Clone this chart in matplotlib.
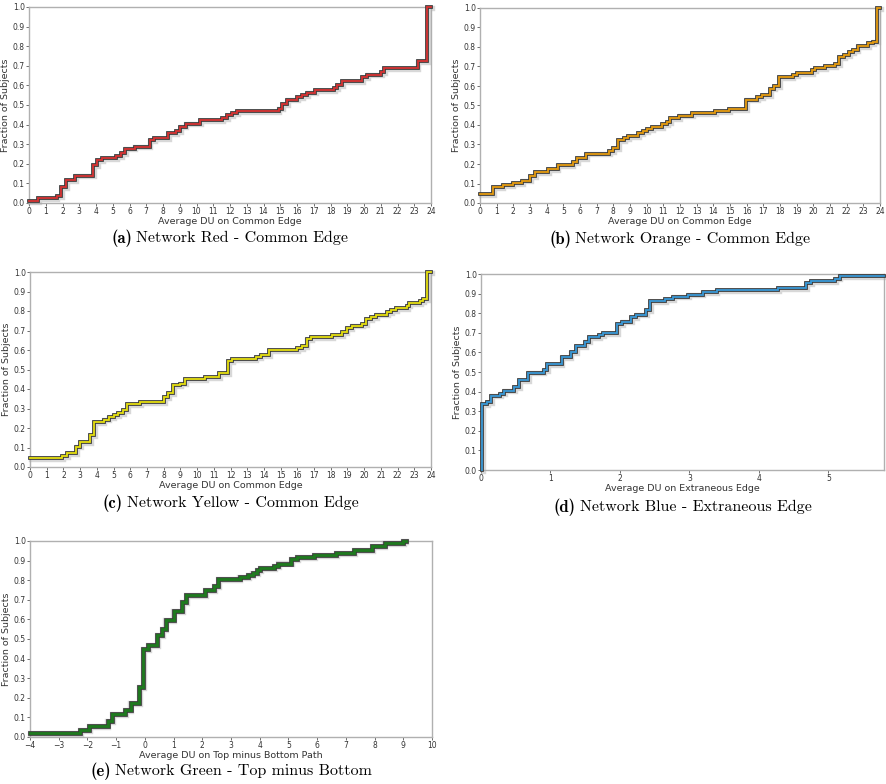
import matplotlib
matplotlib.use('Agg')
import matplotlib.pyplot as plt
import matplotlib.patheffects as pe

plt.rcParams['axes.unicode_minus'] = True

# (a) Network Red - Common Edge : jump positions and new levels
red_x = [0, 0.55, 1.65, 1.9, 2.2, 2.75, 3.85, 4.05, 4.35, 5.2, 5.5, 5.75, 6.3, 7.2, 7.45,
         8.3, 8.8, 9.0, 9.35, 10.2, 11.55, 11.85, 12.1, 12.4, 14.9, 15.1, 15.4, 16.0, 16.3,
         16.6, 17.1, 18.2, 18.4, 18.7, 19.9, 20.2, 21.0, 21.2, 23.2, 23.75, 24]
red_y = [0.01, 0.023, 0.035, 0.08, 0.115, 0.14, 0.195, 0.22, 0.23, 0.24, 0.255, 0.278, 0.288,
         0.322, 0.333, 0.357, 0.368, 0.39, 0.405, 0.425, 0.435, 0.45, 0.46, 0.47, 0.482, 0.505,
         0.528, 0.54, 0.552, 0.563, 0.575, 0.587, 0.6, 0.62, 0.643, 0.655, 0.667, 0.69, 0.723,
         1.0, 1.0]

# (b) Network Orange - Common Edge
orange_x = [0, 0.8, 1.35, 1.95, 2.5, 3.0, 3.3, 4.1, 4.65, 5.55, 5.8, 6.35, 7.75, 8.0, 8.3,
            8.65, 8.9, 9.5, 9.75, 10.0, 10.3, 10.9, 11.2, 11.4, 11.95, 12.7, 14.1, 14.95,
            15.95, 16.6, 16.9, 17.4, 17.65, 17.95, 18.75, 19.0, 19.9, 20.1, 20.7, 21.3, 21.55,
            21.85, 22.15, 22.4, 22.65, 23.3, 23.6, 23.8, 24]
orange_y = [0.045, 0.08, 0.093, 0.103, 0.115, 0.14, 0.16, 0.172, 0.195, 0.208, 0.232, 0.253,
            0.265, 0.28, 0.322, 0.335, 0.345, 0.357, 0.368, 0.38, 0.39, 0.405, 0.415, 0.437,
            0.448, 0.46, 0.472, 0.483, 0.53, 0.542, 0.553, 0.587, 0.6, 0.645, 0.655, 0.667,
            0.68, 0.69, 0.702, 0.713, 0.748, 0.758, 0.772, 0.783, 0.805, 0.818, 0.828, 1.0, 1.0]

# (c) Network Yellow - Common Edge
yellow_x = [0, 1.9, 2.2, 2.75, 3.0, 3.6, 3.85, 4.4, 4.7, 5.0, 5.25, 5.55, 5.8, 6.6, 8.0, 8.25,
            8.55, 9.0, 9.3, 10.5, 11.3, 11.85, 12.1, 13.5, 13.8, 14.3, 16.0, 16.3, 16.55, 16.8,
            18.1, 18.7, 18.95, 19.25, 19.9, 20.1, 20.4, 20.7, 21.35, 21.6, 21.9, 22.55, 22.7,
            23.35, 23.55, 23.75, 24]
yellow_y = [0.047, 0.058, 0.07, 0.105, 0.127, 0.163, 0.232, 0.243, 0.255, 0.265, 0.277, 0.29,
            0.323, 0.335, 0.358, 0.38, 0.418, 0.428, 0.45, 0.46, 0.483, 0.543, 0.553, 0.565,
            0.575, 0.598, 0.61, 0.62, 0.655, 0.667, 0.678, 0.69, 0.713, 0.725, 0.735, 0.758,
            0.77, 0.782, 0.793, 0.805, 0.817, 0.828, 0.84, 0.85, 0.862, 1.0, 1.0]

# (d) Network Blue - Extraneous Edge
blue_x = [0.015, 0.015, 0.09, 0.14, 0.27, 0.33, 0.48, 0.55, 0.68, 0.9, 0.95, 1.16, 1.29, 1.37,
          1.5, 1.56, 1.7, 1.76, 1.96, 2.03, 2.16, 2.23, 2.37, 2.43, 2.65, 2.77, 2.98, 3.19,
          3.39, 4.27, 4.68, 4.75, 5.09, 5.16, 5.8]
blue_y = [0.0, 0.335, 0.345, 0.38, 0.39, 0.405, 0.425, 0.46, 0.497, 0.508, 0.54, 0.575, 0.6,
          0.632, 0.655, 0.677, 0.69, 0.7, 0.745, 0.757, 0.78, 0.793, 0.815, 0.862, 0.872,
          0.885, 0.895, 0.907, 0.918, 0.93, 0.953, 0.965, 0.977, 0.988, 0.988]

# (e) Network Green - Top minus Bottom
green_x = [-4, -2.25, -1.95, -1.3, -1.15, -0.7, -0.5, -0.2, -0.05, 0.1, 0.43, 0.6, 0.72, 1.0,
           1.3, 1.45, 2.1, 2.4, 2.55, 3.3, 3.6, 3.75, 3.9, 4.0, 4.5, 4.65, 5.1, 5.3, 5.9, 6.65,
           7.3, 7.9, 8.35, 9.0, 9.08]
green_y = [0.022, 0.035, 0.057, 0.08, 0.115, 0.138, 0.173, 0.255, 0.45, 0.47, 0.518, 0.552,
           0.598, 0.643, 0.69, 0.725, 0.748, 0.77, 0.805, 0.815, 0.827, 0.838, 0.85, 0.862,
           0.873, 0.885, 0.907, 0.918, 0.93, 0.94, 0.953, 0.975, 0.988, 1.0, 1.0]

W, H = 886, 784
fig = plt.figure(figsize=(W / 100, H / 100), dpi=100)
renderer = fig.canvas.get_renderer()


def caption_text(cx, cy, tag, caption, size=11.5):
    # bold tag in cmb10, rest in cmr10, centred together
    t1 = fig.text(0, 1 - cy / H, '(%s)' % tag, fontsize=size + 0.5, family='cmb10', va='center')
    t2 = fig.text(0, 1 - cy / H, caption, fontsize=size, family='cmr10', va='center')
    w1 = t1.get_window_extent(renderer).width
    w2 = t2.get_window_extent(renderer).width
    gap = 4
    x0 = cx - (w1 + gap + w2) / 2
    t1.set_x(x0 / W)
    t2.set_x((x0 + w1 + gap) / W)


def panel(box, xs, ys, color, xlim, xticks, xlabel, tag, caption, cap_y, lw=1.3):
    l, t, r, b = box
    ax = fig.add_axes([l / W, 1 - b / H, (r - l) / W, (b - t) / H])
    ax.step(xs, ys, where='post', color=color, lw=lw, solid_joinstyle='miter',
            path_effects=[pe.SimpleLineShadow(offset=(0.6, -0.6), shadow_color='#aaaaaa',
                                              alpha=0.45, linewidth=lw + 2.6),
                          pe.Stroke(linewidth=lw + 1.4, foreground='#3a3a3a'), pe.Normal()],
            clip_on=False, zorder=3)
    ax.set_xlim(*xlim)
    ax.set_ylim(0, 1.0)
    ax.set_xticks(xticks)
    ax.set_yticks([i / 10 for i in range(11)])
    ax.set_yticklabels(['%.1f' % (i / 10) for i in range(11)])
    ax.tick_params(labelsize=5.5, length=2, width=0.5, pad=1, colors='#333333')
    for s in ax.spines.values():
        s.set_color('#b0b0b0')
        s.set_linewidth(1.0)
    ax.set_xlabel(xlabel, fontsize=6.8, labelpad=0.5, color='#333333')
    ax.set_ylabel('Fraction of Subjects', fontsize=6.8, labelpad=2, color='#333333')
    caption_text((l + r) / 2, cap_y, tag, caption)
    return ax


panel((29, 7, 431, 203), red_x, red_y, '#d83434', (0, 24), range(0, 25),
      'Average DU on Common Edge', 'a', 'Network Red - Common Edge', 238)
panel((480, 8, 880, 203), orange_x, orange_y, '#e69c10', (0, 24), range(0, 25),
      'Average DU on Common Edge', 'b', 'Network Orange - Common Edge', 239)
panel((30, 272, 431, 467), yellow_x, yellow_y, '#e6e010', (0, 24), range(0, 25),
      'Average DU on Common Edge', 'c', 'Network Yellow - Common Edge', 503)
panel((481, 274, 884, 470), blue_x, blue_y, '#3a9ad8', (0, 5.8), range(0, 6),
      'Average DU on Extraneous Edge', 'd', 'Network Blue - Extraneous Edge', 507)
panel((30, 541, 432, 737), green_x, green_y, '#1f7a1f', (-4, 10), range(-4, 11),
      'Average DU on Top minus Bottom Path', 'e', 'Network Green - Top minus Bottom', 771,
      lw=2.0)

fig.savefig('out.png', dpi=100)
